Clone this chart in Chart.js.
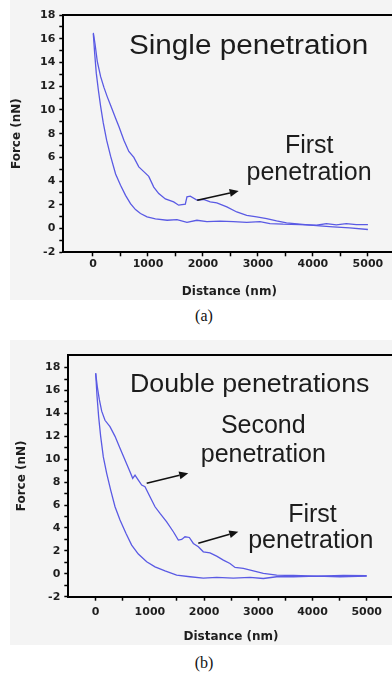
<!DOCTYPE html>
<html>
<head>
<meta charset="utf-8">
<script src="https://cdn.jsdelivr.net/npm/chart.js@4.4.1/dist/chart.umd.min.js"></script>
<style>
  html, body { margin: 0; padding: 0; background: #fff; width: 392px; height: 675px; overflow: hidden; position: relative; }
  .panel { position: absolute; left: 10px; width: 390px; background: #f4f4f4; }
  #panelA { top: 0; height: 300px; }
  #panelB { top: 340px; height: 305px; }
  .cap { position: absolute; left: 0; width: 408px; text-align: center; font: 16px "Liberation Serif", "Times New Roman", serif; color: #111; line-height: 18px; }
</style>
</head>
<body>
<div class="panel" id="panelA"><canvas id="chartA" width="390" height="300"></canvas></div>
<div class="cap" style="top:307px">(a)</div>
<div class="panel" id="panelB"><canvas id="chartB" width="390" height="305"></canvas></div>
<div class="cap" style="top:654px">(b)</div>
<script>
// tick labels
var xTickLabels = [0, 1000, 2000, 3000, 4000, 5000];
var yTickLabels = [-2, 0, 2, 4, 6, 8, 10, 12, 14, 16, 18];

// (a) single penetration - upper curve (with the kink)
var aUpperDist  = [6, 36, 78, 139, 199, 260, 320, 411, 471, 562, 652, 743, 833, 924, 1014, 1105, 1196, 1316, 1467, 1558, 1679, 1709, 1769, 1890, 2011, 2132, 2252, 2434, 2615, 2796, 2977, 3158, 3339, 3520, 3762, 4064, 4366, 4668, 5000];
var aUpperForce = [16.5, 15.6, 14.1, 12.8, 11.9, 11.1, 10.4, 9.3, 8.6, 7.45, 6.5, 6.0, 5.2, 4.8, 4.4, 3.5, 2.95, 2.5, 2.25, 1.97, 2.05, 2.67, 2.73, 2.4, 2.45, 2.25, 2.17, 1.83, 1.4, 1.12, 0.98, 0.84, 0.65, 0.48, 0.37, 0.25, 0.14, 0.06, -0.08];
// (a) lower curve
var aLowerDist  = [6, 30, 60, 97, 139, 187, 248, 320, 411, 501, 592, 682, 773, 864, 984, 1135, 1347, 1528, 1709, 1890, 2071, 2313, 2554, 2796, 3037, 3219, 3460, 3762, 4064, 4245, 4426, 4607, 4789, 5000];
var aLowerForce = [16.4, 14.8, 13.1, 11.7, 10.3, 8.9, 7.45, 6.1, 4.6, 3.65, 2.8, 2.1, 1.6, 1.27, 0.98, 0.82, 0.7, 0.76, 0.53, 0.7, 0.59, 0.62, 0.59, 0.53, 0.59, 0.42, 0.37, 0.34, 0.28, 0.42, 0.31, 0.42, 0.34, 0.34];

// (b) double penetrations - upper curve
var bUpperDist  = [0, 31, 68, 111, 172, 264, 357, 449, 541, 633, 683, 726, 787, 849, 910, 1002, 1095, 1187, 1310, 1433, 1525, 1587, 1648, 1728, 1802, 1894, 1986, 2109, 2232, 2355, 2478, 2571, 2724, 2909, 3093, 3339, 3647, 4077, 4569, 5000];
var bUpperForce = [17.5, 16.3, 15.2, 14.2, 13.4, 12.85, 12.0, 10.95, 9.93, 8.9, 8.33, 8.62, 8.18, 7.75, 7.6, 6.73, 5.85, 5.27, 4.54, 3.67, 2.94, 3.0, 3.23, 3.17, 2.65, 2.36, 1.92, 1.83, 1.54, 1.19, 0.9, 0.55, 0.47, 0.26, 0.03, -0.12, -0.15, -0.2, -0.15, -0.17];
// (b) lower curve
var bLowerDist  = [0, 25, 55, 92, 141, 203, 277, 357, 449, 560, 664, 787, 941, 1095, 1279, 1494, 1740, 1986, 2232, 2540, 2847, 3093, 3339, 3647, 4077, 4508, 5000];
var bLowerForce = [17.5, 15.5, 13.7, 12.0, 10.2, 8.77, 7.3, 5.85, 4.69, 3.52, 2.5, 1.72, 1.05, 0.61, 0.26, -0.12, -0.26, -0.38, -0.32, -0.38, -0.32, -0.41, -0.26, -0.26, -0.2, -0.26, -0.2];

var lineColor = '#5a5ae4';
var tickFont = { family: 'DejaVu Sans', weight: 'bold', size: 11 };
var titleFont = { family: 'DejaVu Sans', weight: 'bold', size: 12 };

function pairs(xs, ys) {
    return xs.map(function (v, i) { return { x: v, y: ys[i] }; });
}

// tick marks every half step between the labelled values
function tickMarks(labels) {
    var out = [];
    var half = (labels[1] - labels[0]) / 2;
    labels.forEach(function (v, i) {
        out.push({ value: v });
        if (i < labels.length - 1) out.push({ value: v + half });
    });
    return out;
}

// frame, text labels and arrows
function notesPlugin(notes) {
    return {
        id: 'notes',
        afterDraw: function (chart) {
            var ctx = chart.ctx, a = chart.chartArea;
            var sx = chart.scales.x, sy = chart.scales.y;
            ctx.save();
            ctx.strokeStyle = '#000';
            ctx.lineWidth = 2;
            ctx.beginPath();
            ctx.moveTo(a.left, a.top);
            ctx.lineTo(a.right, a.top);
            ctx.lineTo(a.right, a.bottom);
            ctx.stroke();

            ctx.fillStyle = '#1c1c1c';
            ctx.textBaseline = 'alphabetic';
            notes.texts.forEach(function (t) {
                ctx.save();
                ctx.font = t.size + 'px "Liberation Sans", Arial, sans-serif';
                ctx.translate(sx.getPixelForValue(t.x), sy.getPixelForValue(t.y));
                ctx.scale(t.stretch || 1, 1);
                ctx.textAlign = t.align;
                ctx.fillText(t.text, 0, 0);
                ctx.restore();
            });

            ctx.strokeStyle = '#111';
            ctx.fillStyle = '#111';
            ctx.lineWidth = 1.6;
            notes.arrows.forEach(function (r) {
                var x0 = sx.getPixelForValue(r.from[0]), y0 = sy.getPixelForValue(r.from[1]);
                var x1 = sx.getPixelForValue(r.to[0]), y1 = sy.getPixelForValue(r.to[1]);
                var ang = Math.atan2(y1 - y0, x1 - x0);
                var len = 9, half = 4;
                var bx = x1 - len * Math.cos(ang), by = y1 - len * Math.sin(ang);
                ctx.beginPath();
                ctx.moveTo(x0, y0);
                ctx.lineTo(bx, by);
                ctx.stroke();
                ctx.beginPath();
                ctx.moveTo(x1, y1);
                ctx.lineTo(bx + half * Math.sin(ang), by - half * Math.cos(ang));
                ctx.lineTo(bx - half * Math.sin(ang), by + half * Math.cos(ang));
                ctx.closePath();
                ctx.fill();
            });
            ctx.restore();
        }
    };
}

function makeChart(id, series, box, notes) {
    return new Chart(document.getElementById(id), {
        type: 'line',
        data: {
            datasets: series.map(function (s) {
                return {
                    data: pairs(s[0], s[1]),
                    borderColor: lineColor,
                    borderWidth: 1.3,
                    pointRadius: 0,
                    fill: false,
                    tension: 0
                };
            })
        },
        options: {
            responsive: false,
            animation: false,
            layout: { padding: { top: box.top, left: 0, right: box.right, bottom: 0 } },
            plugins: { legend: { display: false }, tooltip: { enabled: false } },
            scales: {
                x: {
                    type: 'linear',
                    min: box.xMin,
                    max: 5500,
                    afterFit: function (s) { s.height = box.xHeight; },
                    afterBuildTicks: function (s) { s.ticks = tickMarks(xTickLabels); },
                    ticks: {
                        autoSkip: false,
                        maxRotation: 0,
                        padding: box.xPad,
                        color: '#1e1e1e',
                        font: tickFont,
                        callback: function (v) { return xTickLabels.indexOf(v) >= 0 ? String(v) : ''; }
                    },
                    grid: { drawOnChartArea: false, tickLength: 4, tickColor: '#000', tickWidth: 1.5 },
                    border: { color: '#000', width: 2 },
                    title: { display: true, text: 'Distance (nm)', color: '#1e1e1e', font: titleFont, padding: { top: 0, bottom: 1 } }
                },
                y: {
                    min: -2,
                    max: box.yMax,
                    afterFit: function (s) { s.width = box.yWidth; },
                    afterBuildTicks: function (s) { s.ticks = tickMarks(yTickLabels); },
                    ticks: {
                        autoSkip: false,
                        padding: 4,
                        color: '#1e1e1e',
                        font: tickFont,
                        callback: function (v) { return yTickLabels.indexOf(v) >= 0 ? String(v) : ''; }
                    },
                    grid: { drawOnChartArea: false, tickLength: 4, tickColor: '#000', tickWidth: 1.5 },
                    border: { color: '#000', width: 2 },
                    title: { display: true, text: 'Force (nN)', color: '#1e1e1e', font: titleFont, padding: { top: box.yTitlePad, bottom: 0 } }
                }
            }
        },
        plugins: [notesPlugin(notes)]
    });
}

makeChart('chartA', [[aUpperDist, aUpperForce], [aLowerDist, aLowerForce]],
    { top: 15, right: 4.6, xMin: -540, yMax: 18, yWidth: 53.3, xHeight: 47.7, xPad: 1, yTitlePad: 0 },
    {
        texts: [
            { text: 'Single penetration', x: 653, y: 14.74, size: 27, stretch: 1.1, align: 'left' },
            { text: 'First', x: 3933, y: 6.35, size: 25, align: 'center' },
            { text: 'penetration', x: 3930, y: 4.07, size: 25, align: 'center' }
        ],
        arrows: [
            { from: [1895, 2.39], to: [2650, 3.17] }
        ]
    });

makeChart('chartB', [[bUpperDist, bUpperForce], [bLowerDist, bLowerForce]],
    { top: 15, right: 6.2, xMin: -505, yMax: 19.1, yWidth: 58.3, xHeight: 48.3, xPad: 5, yTitlePad: 4.5 },
    {
        texts: [
            { text: 'Double penetrations', x: 633, y: 15.9, size: 25, stretch: 1.07, align: 'left' },
            { text: 'Second', x: 3092, y: 12.27, size: 25, align: 'center' },
            { text: 'penetration', x: 3092, y: 9.79, size: 25, align: 'center' },
            { text: 'First', x: 4000, y: 4.55, size: 25, align: 'center' },
            { text: 'penetration', x: 3968, y: 2.22, size: 25, align: 'center' }
        ],
        arrows: [
            { from: [941, 7.9], to: [1708, 8.78] },
            { from: [1893, 2.66], to: [2631, 3.67] }
        ]
    });
</script>
</body>
</html>
